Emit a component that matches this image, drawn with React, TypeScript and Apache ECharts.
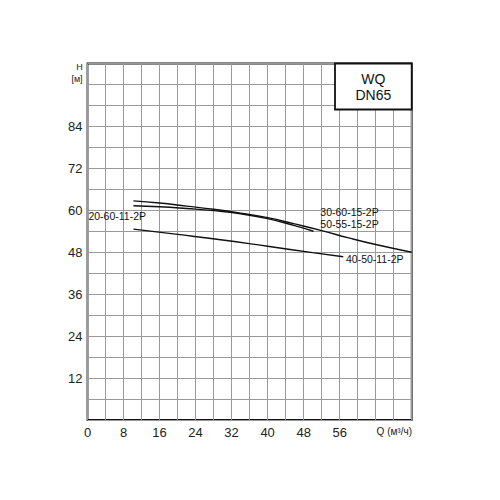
import React, { useEffect, useRef } from "react";
import * as echarts from "echarts";

// Curve data [Q (m³/h), H (m)]
const curveTop: [number, number][] = [
  [10.2, 62.7], [16, 62.1], [22, 61.2], [28, 60.3], [34, 59.2], [40, 57.9],
  [46, 56.1], [52, 54.2], [58, 52.1], [64, 50.2], [72, 48.0],
];
const curveSecond: [number, number][] = [
  [10.2, 61.3], [16, 61.0], [22, 60.5], [28, 59.9], [34, 59.0], [40, 57.6],
  [46, 55.6], [50.2, 54.0],
];
const curveLow: [number, number][] = [
  [10.2, 54.6], [20, 53.1], [30, 51.5], [40, 49.7], [50, 47.9], [56.8, 46.7],
];

const xTickLabels = [0, 8, 16, 24, 32, 40, 48, 56];
const yTickLabels = [12, 24, 36, 48, 60, 72, 84];

const labelTop1 = "30-60-15-2P";
const labelTop2 = "50-55-15-2P";
const labelSecond = "20-60-11-2P";
const labelLow = "40-50-11-2P";

const FONT = "Liberation Sans, Arial, sans-serif";

export default function App() {
  const ref = useRef<HTMLDivElement>(null);
  useEffect(() => {
    if (!ref.current) return;
    const chart = echarts.init(ref.current, undefined, { renderer: "svg" });
    const mpLabel = (text: string, coord: [number, number]) => ({
      coord,
      symbolSize: 0,
      label: {
        show: true,
        formatter: text,
        position: "right",
        distance: 0,
        color: "#111",
        fontSize: 10.5,
        fontFamily: FONT,
      },
    });
    const lineStyle = { color: "#111", width: 1.4 };
    chart.setOption({
      animation: false,
      backgroundColor: "#fff",
      grid: {
        left: 87.5,
        right: 88.3,
        top: 63.5,
        bottom: 80,
        show: true,
        borderColor: "#111",
        borderWidth: 1.8,
      },
      xAxis: {
        type: "value",
        min: 0,
        max: 72,
        interval: 4,
        axisLine: { show: false },
        axisTick: { show: false },
        splitLine: { show: true, lineStyle: { color: "#9a9a9a", width: 1 } },
        axisLabel: {
          color: "#222",
          fontSize: 13,
          fontFamily: FONT,
          margin: 6,
          formatter: (v: number) => (xTickLabels.includes(v) ? String(v) : ""),
        },
      },
      yAxis: {
        type: "value",
        min: 0,
        max: 102,
        interval: 6,
        axisLine: { show: false },
        axisTick: { show: false },
        splitLine: { show: true, lineStyle: { color: "#9a9a9a", width: 1 } },
        axisLabel: {
          color: "#222",
          fontSize: 13,
          fontFamily: FONT,
          margin: 5,
          formatter: (v: number) => (yTickLabels.includes(v) ? String(v) : ""),
        },
      },
      series: [
        {
          name: labelTop1,
          type: "line",
          data: curveTop,
          showSymbol: false,
          smooth: true,
          lineStyle,
          markPoint: {
            symbol: "circle",
            data: [mpLabel(labelTop1, [51.7, 59.4]), mpLabel(labelTop2, [51.7, 56.2])],
          },
        },
        {
          name: labelSecond,
          type: "line",
          data: curveSecond,
          showSymbol: false,
          smooth: true,
          lineStyle,
          markPoint: {
            symbol: "circle",
            data: [mpLabel(labelSecond, [0.2, 58.4])],
          },
        },
        {
          name: labelLow,
          type: "line",
          data: curveLow,
          showSymbol: false,
          smooth: true,
          lineStyle,
          markPoint: {
            symbol: "circle",
            data: [mpLabel(labelLow, [57.4, 46.1])],
          },
        },
      ],
      graphic: [
        {
          type: "rect",
          shape: { x: 335, y: 63.5, width: 76.7, height: 46 },
          style: { fill: "#fff", stroke: "#111", lineWidth: 1.8 },
          z: 10,
        },
        {
          type: "text",
          x: 373.3,
          y: 79,
          style: { text: "WQ", fontSize: 14, fontFamily: FONT, fill: "#111", align: "center", verticalAlign: "middle" },
          z: 11,
        },
        {
          type: "text",
          x: 373.3,
          y: 94.5,
          style: { text: "DN65", fontSize: 14, fontFamily: FONT, fill: "#111", align: "center", verticalAlign: "middle" },
          z: 11,
        },
        {
          type: "text",
          x: 79.5,
          y: 67,
          style: { text: "H", fontSize: 9, fontFamily: FONT, fill: "#222", align: "center", verticalAlign: "middle" },
        },
        {
          type: "text",
          x: 77,
          y: 79,
          style: { text: "[м]", fontSize: 9, fontFamily: FONT, fill: "#222", align: "center", verticalAlign: "middle" },
        },
        {
          type: "text",
          x: 412,
          y: 431,
          style: { text: "Q (м³/ч)", fontSize: 10, fontFamily: FONT, fill: "#222", align: "right", verticalAlign: "middle" },
        },
      ],
    });
    return () => chart.dispose();
  }, []);
  return (
    <div
      ref={ref}
      style={{ position: "fixed", left: 0, top: 0, width: 500, height: 500, background: "#fff" }}
    />
  );
}
